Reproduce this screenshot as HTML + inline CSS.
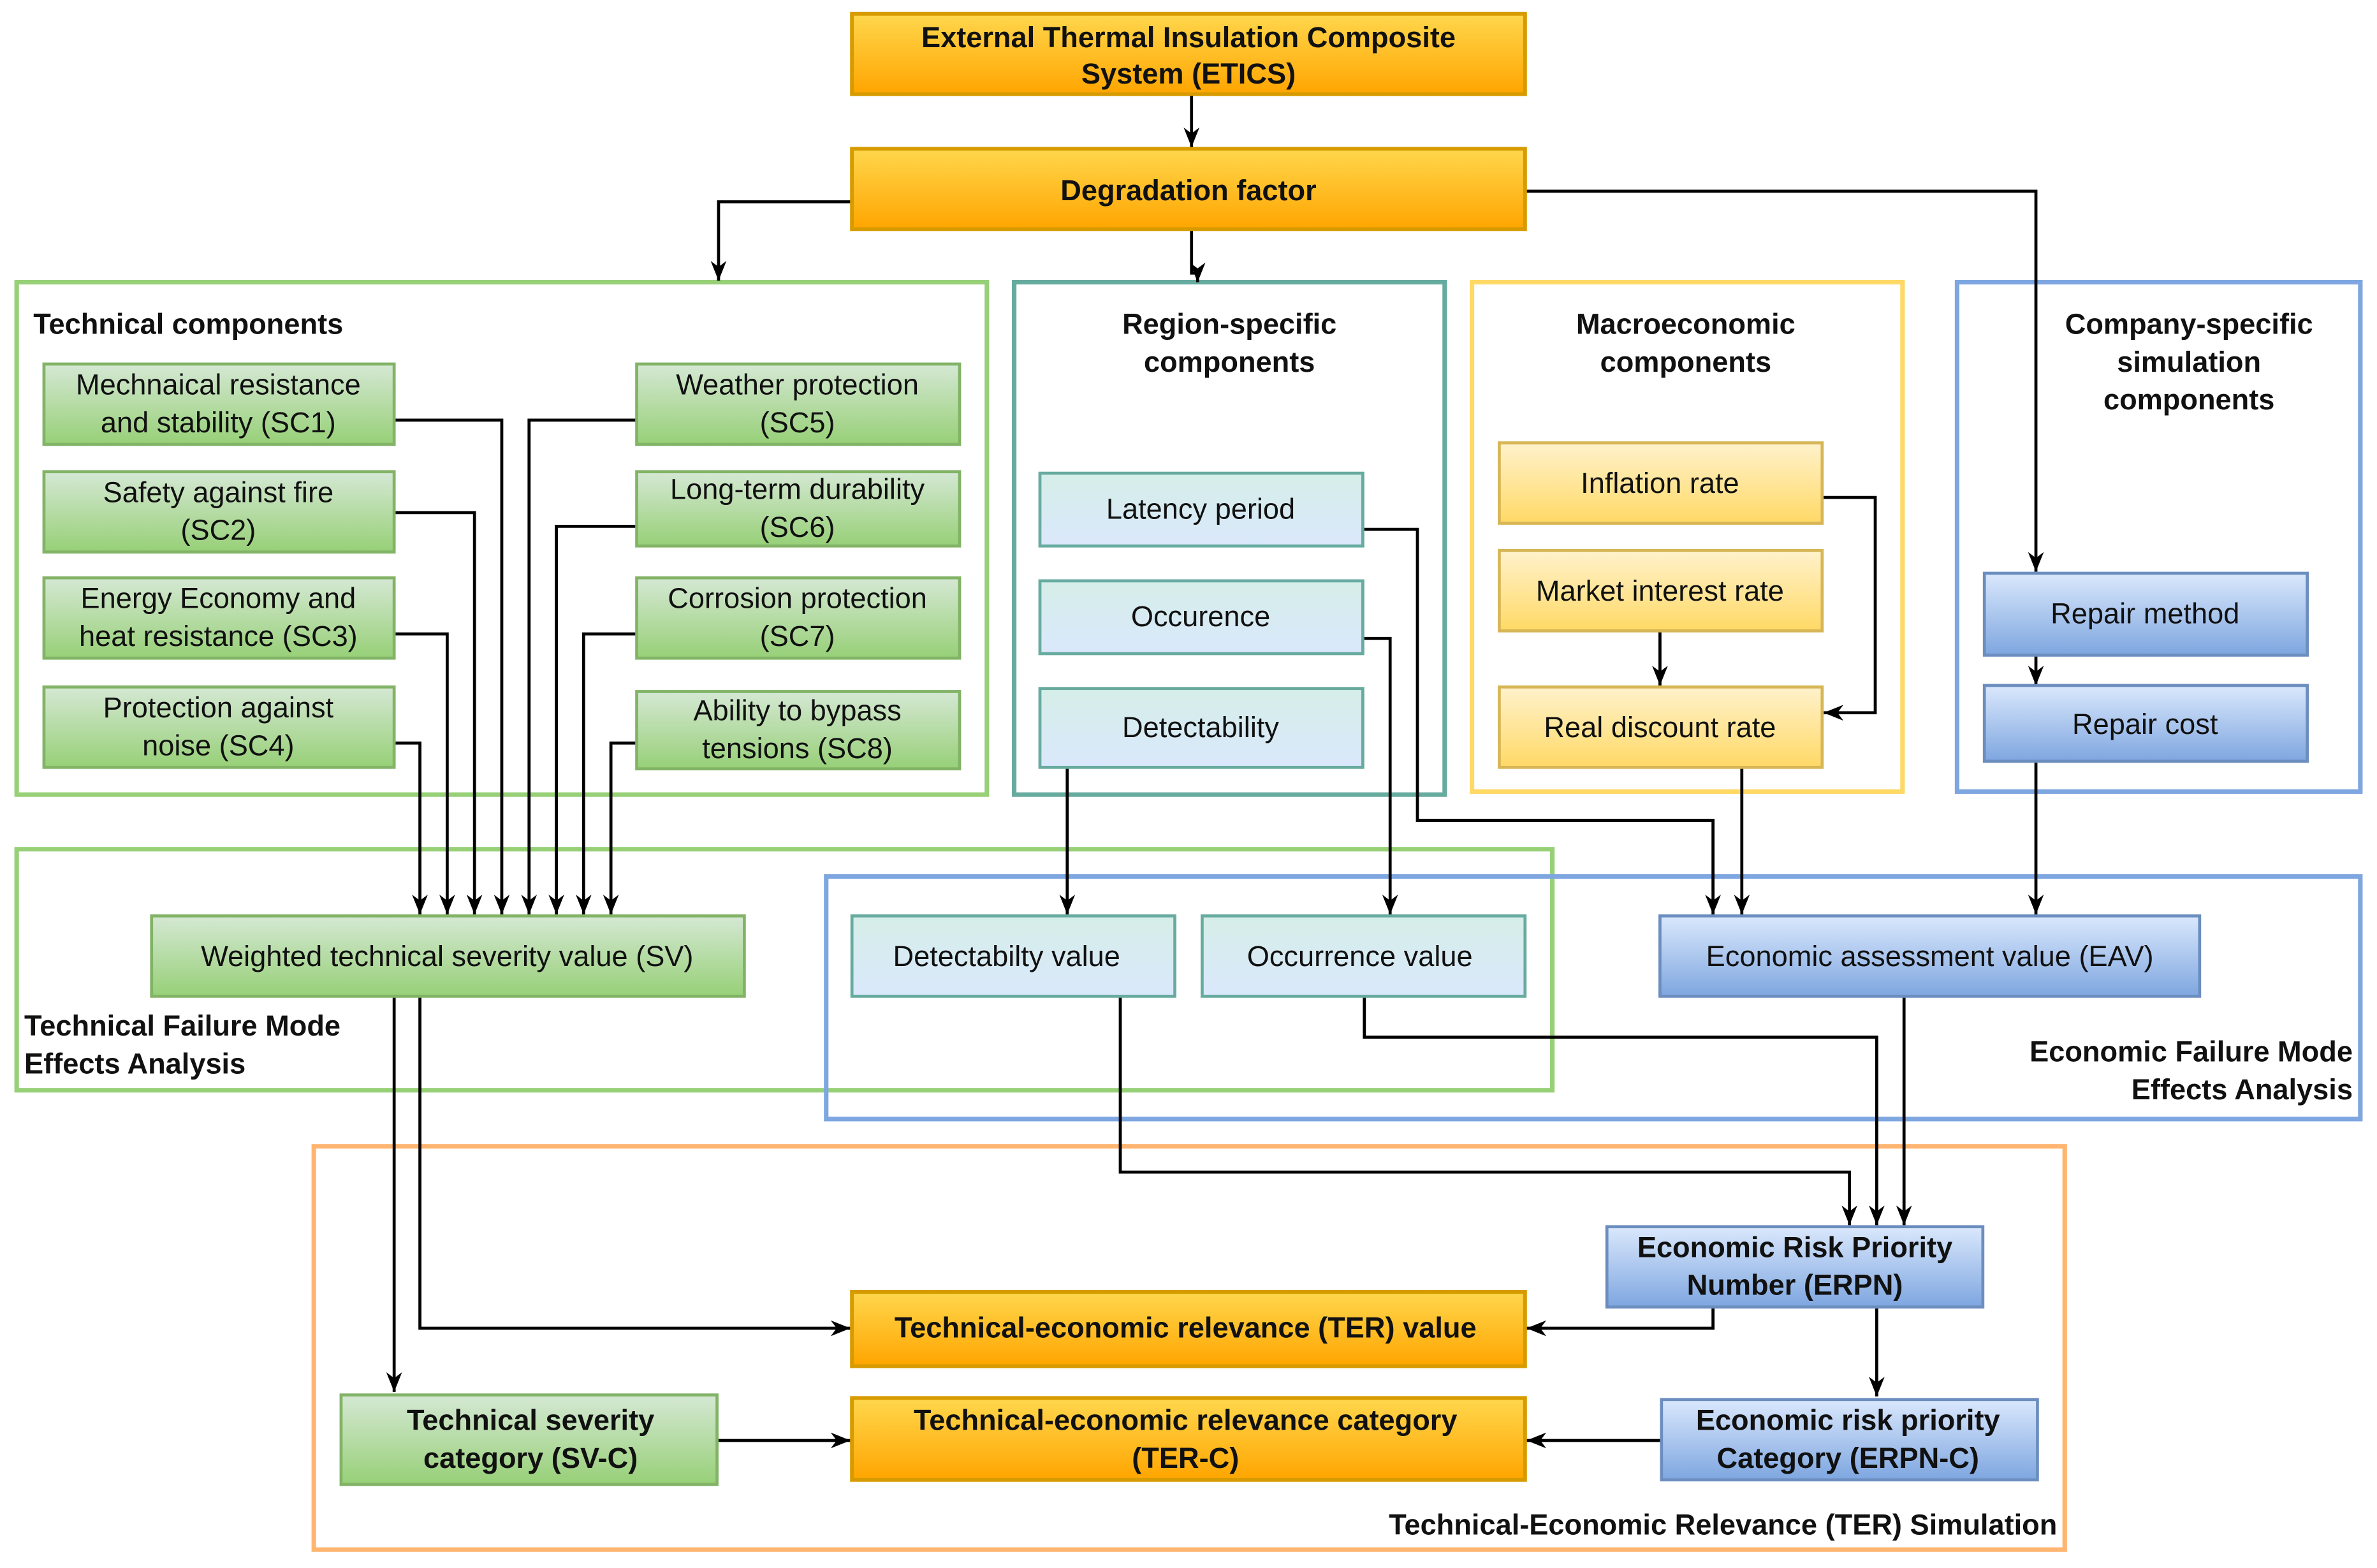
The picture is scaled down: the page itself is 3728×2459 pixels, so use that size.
<!DOCTYPE html>
<html><head><meta charset="utf-8"><style>
html,body{margin:0;padding:0;background:#fff;}
svg{display:block;}
text{font-family:"Liberation Sans",Arial,sans-serif;font-size:19px;fill:#111;}
.b{font-weight:bold;}
</style></head><body>
<svg width="3728" height="2459" viewBox="0 0 1568 1034" xmlns="http://www.w3.org/2000/svg">
<defs>
<linearGradient id="go" x1="0" y1="0" x2="0" y2="1"><stop offset="0" stop-color="#ffd74d"/><stop offset="1" stop-color="#ffa500"/></linearGradient>
<linearGradient id="gg" x1="0" y1="0" x2="0" y2="1"><stop offset="0" stop-color="#d5e8d4"/><stop offset="1" stop-color="#97d077"/></linearGradient>
<linearGradient id="gt" x1="0" y1="0" x2="0" y2="1"><stop offset="0" stop-color="#d5eee8"/><stop offset="1" stop-color="#dae8fc"/></linearGradient>
<linearGradient id="gy" x1="0" y1="0" x2="0" y2="1"><stop offset="0" stop-color="#fff2cc"/><stop offset="1" stop-color="#ffd966"/></linearGradient>
<linearGradient id="gb" x1="0" y1="0" x2="0" y2="1"><stop offset="0" stop-color="#dae8fc"/><stop offset="1" stop-color="#7ea6e0"/></linearGradient>
<marker id="a" viewBox="0 0 10 10" refX="10" refY="5" markerWidth="13" markerHeight="13" orient="auto" markerUnits="userSpaceOnUse"><path d="M0,1 L10,5 L0,9 L3,5 z" fill="#000"/></marker>
</defs>
<style>
.o{fill:url(#go);stroke:#d79b00;stroke-width:2.5}
.g{fill:url(#gg);stroke:#82b366;stroke-width:2}
.t{fill:url(#gt);stroke:#67ab9f;stroke-width:2}
.y{fill:url(#gy);stroke:#d6b656;stroke-width:2}
.bl{fill:url(#gb);stroke:#6c8ebf;stroke-width:2}
.c{fill:none;stroke-width:3}
.l{fill:none;stroke:#000;stroke-width:2;marker-end:url(#a)}
</style>

<rect class="c" x="11" y="186" width="640" height="338" stroke="#97d077"/>
<rect class="c" x="669" y="186" width="284" height="338" stroke="#67ab9f"/>
<rect class="c" x="971" y="186" width="284" height="336" stroke="#ffd966"/>
<rect class="c" x="1291" y="186" width="266" height="336" stroke="#7ea6e0"/>
<rect class="c" x="11" y="560" width="1013" height="159" stroke="#97d077"/>
<rect class="c" x="545" y="578" width="1012" height="160" stroke="#7ea6e0"/>
<rect class="c" x="207" y="756" width="1155" height="266" stroke="#ffb570"/>

<text class="b" x="22" y="220">Technical components</text>
<text class="b" x="811" y="220" text-anchor="middle">Region-specific</text>
<text class="b" x="811" y="245" text-anchor="middle">components</text>
<text class="b" x="1112" y="220" text-anchor="middle">Macroeconomic</text>
<text class="b" x="1112" y="245" text-anchor="middle">components</text>
<text class="b" x="1444" y="220" text-anchor="middle">Company-specific</text>
<text class="b" x="1444" y="245" text-anchor="middle">simulation</text>
<text class="b" x="1444" y="270" text-anchor="middle">components</text>
<text class="b" x="16" y="683">Technical Failure Mode</text>
<text class="b" x="16" y="708">Effects Analysis</text>
<text class="b" x="1552" y="700" text-anchor="end">Economic Failure Mode</text>
<text class="b" x="1552" y="725" text-anchor="end">Effects Analysis</text>
<text class="b" x="1357" y="1012" text-anchor="end">Technical-Economic Relevance (TER) Simulation</text>

<path class="l" d="M786,62 V97"/>
<path class="l" d="M562,133 H474 V185"/>
<path class="l" d="M786,151 V180 H790 V186"/>
<path class="l" d="M1006,126 H1343 V377"/>
<path class="l" d="M260,277 H331 V603"/>
<path class="l" d="M260,338 H313 V603"/>
<path class="l" d="M260,418 H295 V603"/>
<path class="l" d="M260,490 H277 V603"/>
<path class="l" d="M420,277 H349 V603"/>
<path class="l" d="M420,347 H367 V603"/>
<path class="l" d="M420,418 H385 V603"/>
<path class="l" d="M420,490 H403 V603"/>
<path class="l" d="M704,506 V603"/>
<path class="l" d="M899,421 H917 V603"/>
<path class="l" d="M899,349 H935 V541 H1130 V603"/>
<path class="l" d="M1149,506 V603"/>
<path class="l" d="M1343,502 V603"/>
<path class="l" d="M1202,328 H1237 V470 H1203"/>
<path class="l" d="M1095,416 V452"/>
<path class="l" d="M1343,432 V452"/>
<path class="l" d="M260,657 V918"/>
<path class="l" d="M277,657 V876 H561"/>
<path class="l" d="M739,657 V773 H1220 V808"/>
<path class="l" d="M900,657 V684 H1238 V808"/>
<path class="l" d="M1256,657 V808"/>
<path class="l" d="M1238,862 V921"/>
<path class="l" d="M1130,862 V876 H1007"/>
<path class="l" d="M473,950 H561"/>
<path class="l" d="M1096,950 H1007"/>

<rect class="o" x="562" y="9" width="444" height="53"/>
<text class="b" x="784" y="31" text-anchor="middle">External Thermal Insulation Composite</text>
<text class="b" x="784" y="55" text-anchor="middle">System (ETICS)</text>
<rect class="o" x="562" y="98" width="444" height="53"/>
<text class="b" x="784" y="132" text-anchor="middle">Degradation factor</text>

<rect class="g" x="29" y="240" width="231" height="53"/>
<text x="144" y="260" text-anchor="middle">Mechnaical resistance</text><text x="144" y="285" text-anchor="middle">and stability (SC1)</text>
<rect class="g" x="29" y="311" width="231" height="53"/>
<text x="144" y="331" text-anchor="middle">Safety against fire</text><text x="144" y="356" text-anchor="middle">(SC2)</text>
<rect class="g" x="29" y="381" width="231" height="53"/>
<text x="144" y="401" text-anchor="middle">Energy Economy and</text><text x="144" y="426" text-anchor="middle">heat resistance (SC3)</text>
<rect class="g" x="29" y="453" width="231" height="53"/>
<text x="144" y="473" text-anchor="middle">Protection against</text><text x="144" y="498" text-anchor="middle">noise (SC4)</text>
<rect class="g" x="420" y="240" width="213" height="53"/>
<text x="526" y="260" text-anchor="middle">Weather protection</text><text x="526" y="285" text-anchor="middle">(SC5)</text>
<rect class="g" x="420" y="311" width="213" height="49"/>
<text x="526" y="329" text-anchor="middle">Long-term durability</text><text x="526" y="354" text-anchor="middle">(SC6)</text>
<rect class="g" x="420" y="381" width="213" height="53"/>
<text x="526" y="401" text-anchor="middle">Corrosion protection</text><text x="526" y="426" text-anchor="middle">(SC7)</text>
<rect class="g" x="420" y="456" width="213" height="51"/>
<text x="526" y="475" text-anchor="middle">Ability to bypass</text><text x="526" y="500" text-anchor="middle">tensions (SC8)</text>

<rect class="t" x="686" y="312" width="213" height="48"/>
<text x="792" y="342" text-anchor="middle">Latency period</text>
<rect class="t" x="686" y="383" width="213" height="48"/>
<text x="792" y="413" text-anchor="middle">Occurence</text>
<rect class="t" x="686" y="454" width="213" height="52"/>
<text x="792" y="486" text-anchor="middle">Detectability</text>

<rect class="y" x="989" y="292" width="213" height="53"/>
<text x="1095" y="325" text-anchor="middle">Inflation rate</text>
<rect class="y" x="989" y="363" width="213" height="53"/>
<text x="1095" y="396" text-anchor="middle">Market interest rate</text>
<rect class="y" x="989" y="453" width="213" height="53"/>
<text x="1095" y="486" text-anchor="middle">Real discount rate</text>

<rect class="bl" x="1309" y="378" width="213" height="54"/>
<text x="1415" y="411" text-anchor="middle">Repair method</text>
<rect class="bl" x="1309" y="452" width="213" height="50"/>
<text x="1415" y="484" text-anchor="middle">Repair cost</text>

<rect class="g" x="100" y="604" width="391" height="53"/>
<text x="295" y="637" text-anchor="middle">Weighted technical severity value (SV)</text>
<rect class="t" x="562" y="604" width="213" height="53"/>
<text x="664" y="637" text-anchor="middle">Detectabilty value</text>
<rect class="t" x="793" y="604" width="213" height="53"/>
<text x="897" y="637" text-anchor="middle">Occurrence value</text>
<rect class="bl" x="1095" y="604" width="356" height="53"/>
<text x="1273" y="637" text-anchor="middle">Economic assessment value (EAV)</text>

<rect class="bl" x="1060" y="809" width="248" height="53"/>
<text class="b" x="1184" y="829" text-anchor="middle">Economic Risk Priority</text>
<text class="b" x="1184" y="854" text-anchor="middle">Number (ERPN)</text>
<rect class="o" x="562" y="852" width="444" height="49"/>
<text class="b" x="782" y="882" text-anchor="middle">Technical-economic relevance (TER) value</text>
<rect class="o" x="562" y="922" width="444" height="54"/>
<text class="b" x="782" y="943" text-anchor="middle">Technical-economic relevance category</text>
<text class="b" x="782" y="968" text-anchor="middle">(TER-C)</text>
<rect class="g" x="225" y="920" width="248" height="59"/>
<text class="b" x="350" y="943" text-anchor="middle">Technical severity</text>
<text class="b" x="350" y="968" text-anchor="middle">category (SV-C)</text>
<rect class="bl" x="1096" y="923" width="248" height="53"/>
<text class="b" x="1219" y="943" text-anchor="middle">Economic risk priority</text>
<text class="b" x="1219" y="968" text-anchor="middle">Category (ERPN-C)</text>
</svg>
</body></html>
